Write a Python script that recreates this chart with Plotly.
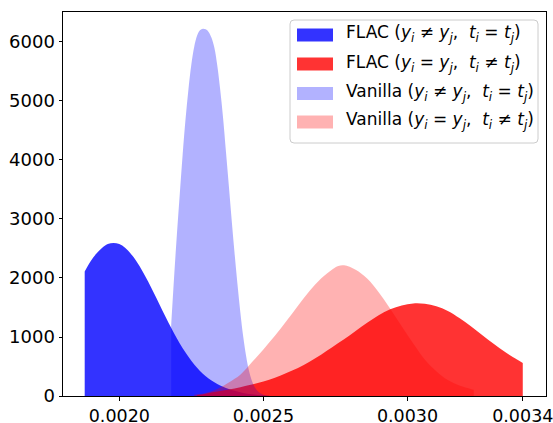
import plotly.graph_objects as go

# FLAC (y_i != y_j, t_i = t_j)
flac_diff_x = [0.00188, 0.00190, 0.00192, 0.00194, 0.00196, 0.00198, 0.00200, 0.00202, 0.00204,
               0.00206, 0.00208, 0.00210, 0.00212, 0.00214, 0.00216, 0.00218, 0.00220, 0.00222,
               0.00224, 0.00226, 0.00228, 0.00230, 0.00232, 0.00234, 0.00236, 0.00238, 0.00240,
               0.00242, 0.00244, 0.00246, 0.00248, 0.00250, 0.00252]
flac_diff_y = [2110, 2280, 2410, 2510, 2575, 2595, 2575, 2512, 2412,
               2280, 2120, 1940, 1745, 1548, 1348, 1155, 975, 810,
               665, 535, 425, 335, 262, 204, 157, 118, 88,
               62, 42, 28, 18, 11, 6]

# FLAC (y_i = y_j, t_i != t_j)
flac_same_x = [0.00227, 0.00230, 0.00234, 0.00238, 0.00242, 0.00246, 0.00250, 0.00254, 0.00258,
               0.00262, 0.00266, 0.00270, 0.00274, 0.00278, 0.00282, 0.00286, 0.00290, 0.00294,
               0.00298, 0.00302, 0.00306, 0.00310, 0.00314, 0.00318, 0.00322, 0.00326, 0.00330,
               0.00334, 0.00338, 0.00340]
flac_same_y = [15, 40, 75, 110, 150, 195, 245, 310, 390,
               475, 580, 700, 830, 960, 1100, 1240, 1370, 1470,
               1535, 1568, 1562, 1520, 1440, 1320, 1180, 1030, 880,
               740, 620, 560]

# Vanilla (y_i != y_j, t_i = t_j)
van_diff_x = [0.00218, 0.00219, 0.00220, 0.00221, 0.00222, 0.00223, 0.00224, 0.00225, 0.00226,
              0.00227, 0.00228, 0.00229, 0.00230, 0.00231, 0.00232, 0.00233, 0.00234, 0.00235,
              0.00236, 0.00237, 0.00238, 0.00239, 0.00240, 0.00241, 0.00242, 0.00243, 0.00244,
              0.00245, 0.00246, 0.00247, 0.00248, 0.00249, 0.00250, 0.00251, 0.00252]
van_diff_y = [1200, 2000, 2750, 3430, 4100, 4700, 5200, 5620, 5920,
              6110, 6200, 6225, 6215, 6170, 6070, 5900, 5600, 5200,
              4720, 4150, 3570, 2980, 2420, 1900, 1420, 1010, 680,
              430, 260, 150, 85, 45, 22, 10, 4]

# Vanilla (y_i = y_j, t_i != t_j)
van_same_x = [0.00226, 0.00230, 0.00234, 0.00238, 0.00242, 0.00246, 0.00250, 0.00254, 0.00258,
              0.00262, 0.00266, 0.00270, 0.00274, 0.00276, 0.00278, 0.00282, 0.00286, 0.00290,
              0.00294, 0.00298, 0.00302, 0.00306, 0.00310, 0.00314, 0.00318, 0.00322, 0.00323]
van_same_y = [20, 50, 120, 230, 360, 570, 790, 1020, 1270,
              1530, 1780, 1990, 2150, 2205, 2215, 2140, 1990, 1760,
              1480, 1180, 890, 620, 420, 270, 180, 120, 105]

x_ticks = [0.0020, 0.0025, 0.0030, 0.0034]
x_tick_labels = ["0.0020", "0.0025", "0.0030", "0.0034"]
y_ticks = [0, 1000, 2000, 3000, 4000, 5000, 6000]

names = [
    "FLAC (<i>y<sub>i</sub></i> ≠ <i>y<sub>j</sub></i>,  <i>t<sub>i</sub></i> = <i>t<sub>j</sub></i>)",
    "FLAC (<i>y<sub>i</sub></i> = <i>y<sub>j</sub></i>,  <i>t<sub>i</sub></i> ≠ <i>t<sub>j</sub></i>)",
    "Vanilla (<i>y<sub>i</sub></i> ≠ <i>y<sub>j</sub></i>,  <i>t<sub>i</sub></i> = <i>t<sub>j</sub></i>)",
    "Vanilla (<i>y<sub>i</sub></i> = <i>y<sub>j</sub></i>,  <i>t<sub>i</sub></i> ≠ <i>t<sub>j</sub></i>)",
]
colors = ["rgba(0,0,255,0.8)", "rgba(255,0,0,0.8)", "rgba(0,0,255,0.3)", "rgba(255,0,0,0.3)"]
series = [(flac_diff_x, flac_diff_y), (flac_same_x, flac_same_y),
          (van_diff_x, van_diff_y), (van_same_x, van_same_y)]

W, H = 553, 423
L, R, T, B = 63, 546, 12, 396  # plot area in pixels


def px(xp):
    return (xp - L) / (R - L)


def py(yp):
    return (B - yp) / (B - T)


fig = go.Figure()
for (xs, ys), name, col in zip(series, names, colors):
    fig.add_trace(go.Scatter(x=xs, y=ys, mode="lines", name=name, fill="tozeroy",
                             fillcolor=col, showlegend=False,
                             line=dict(width=0, color=col, shape="spline")))

# Manual legend (matplotlib style)
shapes = []
annotations = []
bx0, bx1, by0, by1, rr = 290, 538, 20, 143, 4
path = (f"M {px(bx0+rr)} {py(by0)} L {px(bx1-rr)} {py(by0)} "
        f"Q {px(bx1)} {py(by0)} {px(bx1)} {py(by0+rr)} L {px(bx1)} {py(by1-rr)} "
        f"Q {px(bx1)} {py(by1)} {px(bx1-rr)} {py(by1)} L {px(bx0+rr)} {py(by1)} "
        f"Q {px(bx0)} {py(by1)} {px(bx0)} {py(by1-rr)} L {px(bx0)} {py(by0+rr)} "
        f"Q {px(bx0)} {py(by0)} {px(bx0+rr)} {py(by0)} Z")
shapes.append(dict(type="path", xref="paper", yref="paper", path=path,
                   fillcolor="rgba(255,255,255,0.8)", line=dict(color="#cccccc", width=1),
                   layer="above"))
rows = [35, 64, 93.5, 122]
for rowy, name, col in zip(rows, names, colors):
    shapes.append(dict(type="rect", xref="paper", yref="paper",
                       x0=px(297), x1=px(333), y0=py(rowy - 6.5), y1=py(rowy + 6.5),
                       fillcolor=col, line=dict(width=0), layer="above"))
    annotations.append(dict(xref="paper", yref="paper", x=px(344), y=py(rowy - 1),
                            xanchor="left", yanchor="middle", showarrow=False, text=name,
                            font=dict(family="DejaVu Sans", size=17, color="black")))

fig.update_layout(
    width=W, height=H,
    margin=dict(l=L, r=W - R, t=T, b=H - B, autoexpand=False),
    paper_bgcolor="white", plot_bgcolor="white",
    font=dict(family="DejaVu Sans", size=18, color="black"),
    showlegend=False,
    shapes=shapes,
    annotations=annotations,
)
fig.update_xaxes(range=[0.0018047, 0.0034806], tickvals=x_ticks, ticktext=x_tick_labels,
                 showline=True, linecolor="black", linewidth=1, mirror=True, automargin=False,
                 ticks="outside", ticklen=3.5, tickcolor="black", showgrid=False, zeroline=False,
                 ticklabeloverflow="allow",
                 tickfont=dict(family="DejaVu Sans", size=17.5, color="black"))
fig.update_yaxes(range=[0, 6508], tickvals=y_ticks,
                 showline=True, linecolor="black", linewidth=1, mirror=True, automargin=False,
                 ticks="outside", ticklen=3.5, tickcolor="black", showgrid=False, zeroline=False,
                 tickfont=dict(family="DejaVu Sans", size=18, color="black"))

fig.write_html("out.html", config={"displayModeBar": False},
               post_script="document.body.style.margin='0';document.body.style.overflow='hidden';")
